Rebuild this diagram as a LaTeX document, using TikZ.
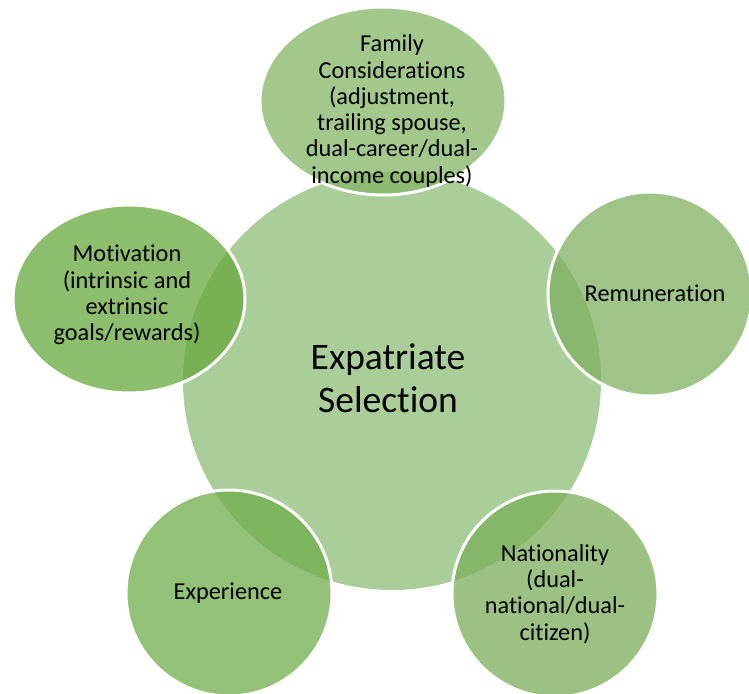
\documentclass[tikz,border=0pt]{standalone}
\usepackage{fontspec}
\setmainfont{Carlito}[Ligatures=NoCommon]
\usepackage{xcolor}
\usepackage{tikz}

\definecolor{hubgreen}{HTML}{AACE99}
\definecolor{famgreen}{HTML}{84B566}
\definecolor{remgreen}{HTML}{7EB060}
\definecolor{natgreen}{HTML}{7BAE5A}
\definecolor{expgreen}{HTML}{6FAC4B}
\definecolor{motgreen}{HTML}{67A83C}

\tikzset{
  spoke/.style={draw=white, line width=3pt, fill opacity=0.75},
  spoketext/.style={align=center, inner sep=0pt, font=\fontsize{24.3}{26.3}\selectfont},
  hubtext/.style={align=center, inner sep=0pt, font=\fontsize{37.5}{43}\selectfont}
}

\begin{document}
\begin{tikzpicture}[x=1pt, y=-1pt]
  \useasboundingbox (0,0) rectangle (749,693);
  % centre circle
  \fill[hubgreen] (392,381) circle [radius=209];
  \node[hubtext] (hub) at (388,378) {Expatriate\\Selection};
  % spokes, clockwise from the top
  \draw[spoke, fill=famgreen] (383,101) ellipse [x radius=123, y radius=94];
  \node[spoketext] (family) at (392,111) {Family\\Considerations\\(adjustment,\\trailing spouse,\\dual-career/dual-\\income couples)};
  \draw[spoke, fill=remgreen] (650,294) circle [radius=102];
  \node[spoketext] (remun) at (655,293) {Remuneration};
  \draw[spoke, fill=natgreen] (555,594) circle [radius=103];
  \node[spoketext] (nation) at (555,594) {Nationality\\(dual-\\national/dual-\\citizen)};
  \draw[spoke, fill=expgreen] (229,593) circle [radius=103];
  \node[spoketext] (exper) at (228,593) {Experience};
  \draw[spoke, fill=motgreen] (129,299) ellipse [x radius=116, y radius=94];
  \node[spoketext] (motiv) at (127,295) {Motivation\\(intrinsic and\\extrinsic\\goals/rewards)};
\end{tikzpicture}
\end{document}
